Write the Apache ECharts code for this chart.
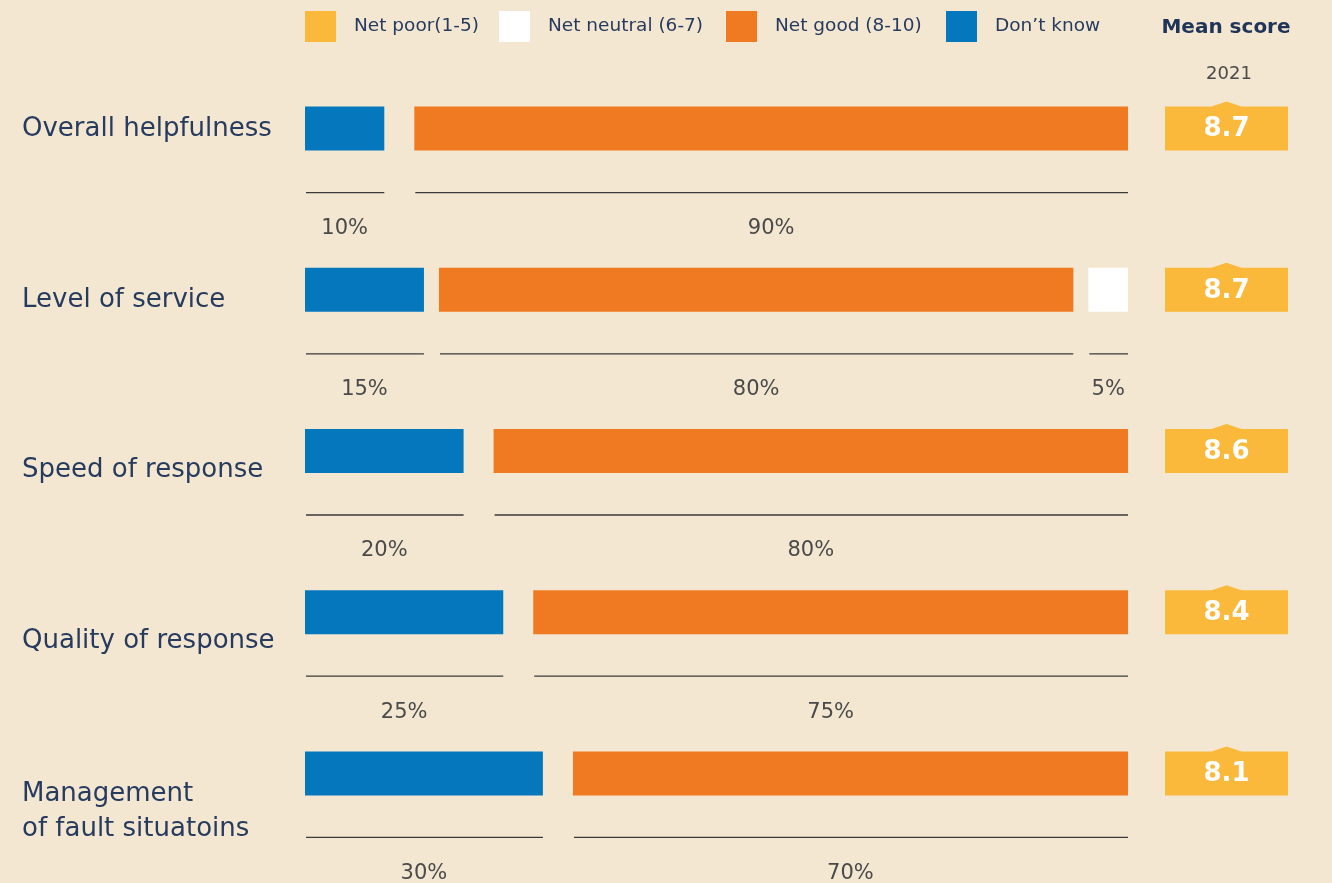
<!DOCTYPE html>
<html><head><meta charset="utf-8">
<script src="https://cdn.jsdelivr.net/npm/echarts@6/dist/echarts.min.js"></script>
<style>html,body{margin:0;padding:0;background:#f3e7d2;} #c{width:1332px;height:883px;}</style>
</head><body><div id="c"></div>
<script>
const categories = ['Overall helpfulness', 'Level of service', 'Speed of response', 'Quality of response', 'Management\nof fault situatoins'];
const dontKnow = [10, 15, 20, 25, 30];
const netGood = [90, 80, 80, 75, 70];
const netNeutral = [0, 5, 0, 0, 0];
const netPoor = [0, 0, 0, 0, 0];
const meanScores = [8.7, 8.7, 8.6, 8.4, 8.1];
const meanYear = '2021';
const seriesNames = ['Net poor(1-5)', 'Net neutral (6-7)', 'Net good (8-10)', 'Don\u2019t know'];

const C_POOR = '#fbb93b', C_NEUTRAL = '#ffffff', C_GOOD = '#ef7a22', C_DK = '#0577bd';
const NAVY = '#263b5e';
const FONT = '"DejaVu Sans", sans-serif';
const rowIdx = categories.map((c, i) => [i]);

function barItem(params, api) {
  const i = api.value(0);
  const vals = [dontKnow[i], netGood[i], netNeutral[i], netPoor[i]];
  const cols = [C_DK, C_GOOD, C_NEUTRAL, C_POOR];
  const segs = [];
  vals.forEach((v, k) => { if (v > 0) segs.push({ v: v, c: cols[k] }); });
  const gap = segs.length > 1 ? 30 / (segs.length - 1) : 0;
  const yc = api.coord([0, i])[1];
  let cum = 0;
  const children = [];
  segs.forEach((s, k) => {
    const x0 = api.coord([cum, i])[0] + k * gap;
    const x1 = api.coord([cum + s.v, i])[0] + k * gap;
    cum += s.v;
    children.push({ type: 'rect', shape: { x: x0, y: yc - 22, width: x1 - x0, height: 44 }, style: { fill: s.c } });
    children.push({ type: 'line', shape: { x1: x0 + 1, y1: yc + 64, x2: x1, y2: yc + 64 }, style: { stroke: '#3a3a3a', lineWidth: 1.3 } });
    children.push({ type: 'text', style: { text: s.v + '%', x: (x0 + x1) / 2, y: yc + 100, align: 'center', verticalAlign: 'middle', fontSize: 21, fill: '#4a4a4a', fontFamily: FONT } });
  });
  return { type: 'group', children: children };
}

function meanItem(params, api) {
  const i = api.value(0);
  const x0 = api.coord([0, i])[0], x1 = api.coord([1, i])[0];
  const yc = api.coord([0, i])[1];
  const yT = yc - 22, yB = yc + 22, xm = (x0 + x1) / 2;
  return {
    type: 'group', children: [
      { type: 'polygon', shape: { points: [[x0, yT], [xm - 15, yT], [xm, yT - 5], [xm + 15, yT], [x1, yT], [x1, yB], [x0, yB]] }, style: { fill: C_POOR } },
      { type: 'text', style: { text: api.value(1).toFixed(1), x: xm, y: yc + 1, align: 'center', verticalAlign: 'middle', fontSize: 26, fontWeight: 'bold', fill: '#ffffff', fontFamily: FONT } }
    ]
  };
}

const legendLefts = [305, 499, 726, 946];
const legendColors = [C_POOR, C_NEUTRAL, C_GOOD, C_DK];

const option = {
  backgroundColor: '#f3e7d2',
  animation: false,
  title: [
    { text: 'Mean score', left: 1221, top: 13, textAlign: 'center', textStyle: { fontSize: 20, fontWeight: 'bold', color: '#1f3458', fontFamily: FONT } },
    { text: meanYear, left: 1224, top: 60, textAlign: 'center', textStyle: { fontSize: 18, fontWeight: 'normal', color: '#4a4a4a', fontFamily: FONT } }
  ],
  legend: seriesNames.map((n, k) => ({
    data: [n], left: legendLefts[k], top: 11, itemWidth: 31, itemHeight: 31, icon: 'rect', padding: 0,
    selectedMode: false,
    textStyle: { fontSize: 18.5, color: NAVY, fontFamily: FONT, padding: [0, 0, 0, 13] }
  })),
  grid: [
    { left: 305, width: 793, top: 48, height: 806 },
    { left: 1165, width: 123, top: 48, height: 806 },
    { left: 22, width: 1, top: 129, height: 683 }
  ],
  xAxis: [
    { gridIndex: 0, type: 'value', min: 0, max: 100, show: false },
    { gridIndex: 1, type: 'value', min: 0, max: 1, show: false },
    { gridIndex: 2, type: 'value', min: 0, max: 1, show: false }
  ],
  yAxis: [
    { gridIndex: 0, type: 'category', data: categories, inverse: true, show: false },
    { gridIndex: 1, type: 'category', data: categories, inverse: true, show: false },
    { gridIndex: 2, type: 'category', data: categories, inverse: true, boundaryGap: false,
      axisLine: { show: false }, axisTick: { show: false }, splitLine: { show: false },
      axisLabel: { inside: true, margin: 0, align: 'left', fontSize: 26, lineHeight: 35, color: NAVY, fontFamily: FONT, showMinLabel: true, showMaxLabel: true } }
  ],
  series: [
    { type: 'custom', name: 'bars', xAxisIndex: 0, yAxisIndex: 0, data: rowIdx, encode: { y: 0 }, renderItem: barItem, silent: true },
    { type: 'custom', name: 'mean', xAxisIndex: 1, yAxisIndex: 1, data: meanScores.map((m, i) => [i, m]), encode: { y: 0 }, renderItem: meanItem, silent: true }
  ].concat(seriesNames.map((n, k) => ({ type: 'bar', name: n, xAxisIndex: 0, yAxisIndex: 0, data: [], itemStyle: { color: legendColors[k] } })))
};
const chart = echarts.init(document.getElementById('c'));
chart.setOption(option);
</script></body></html>
